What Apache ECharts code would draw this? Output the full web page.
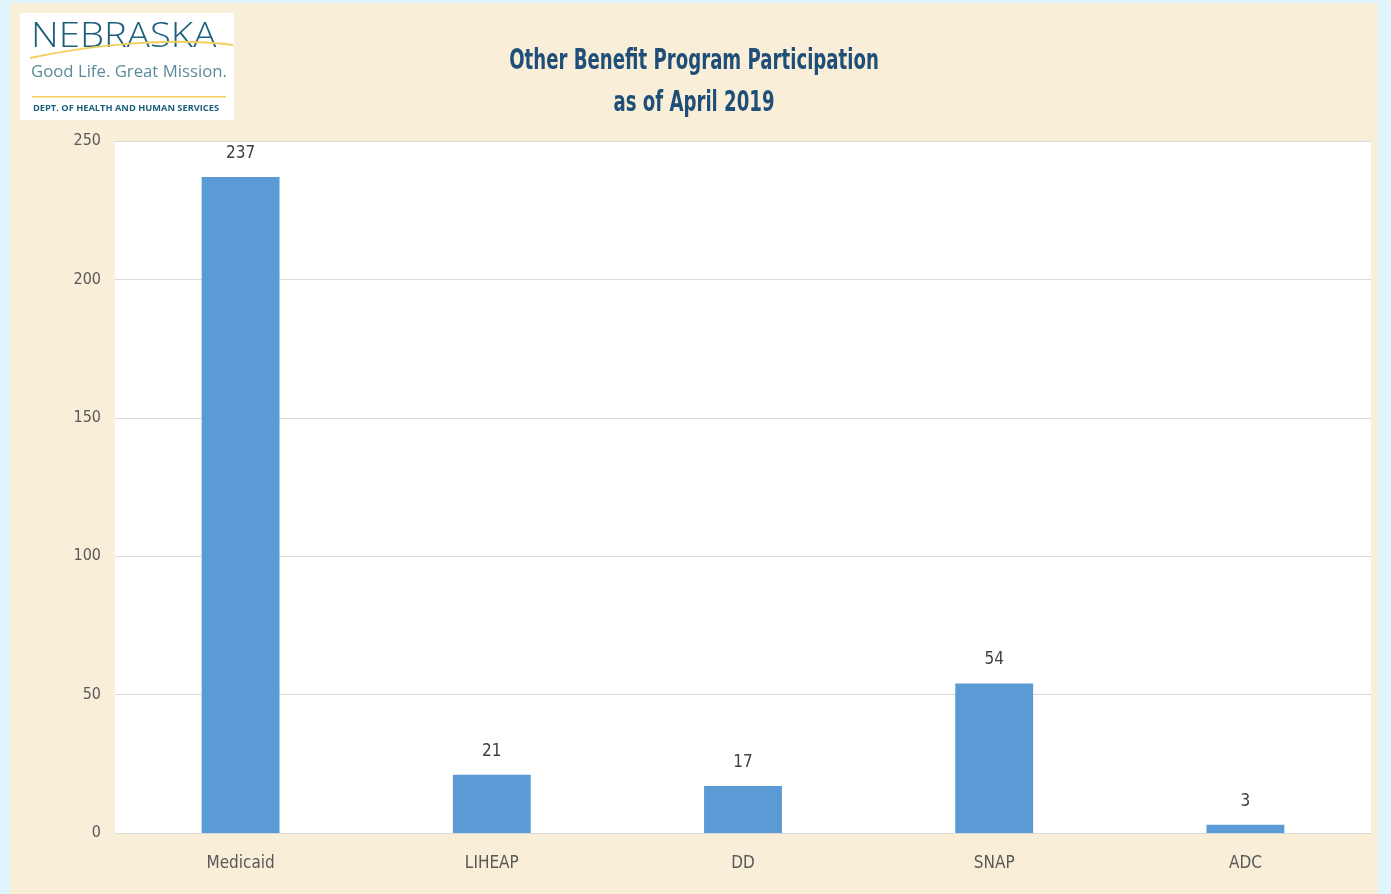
<!DOCTYPE html>
<html>
<head>
<meta charset="utf-8">
<script src="https://cdn.jsdelivr.net/npm/echarts@6/dist/echarts.min.js"></script>
<style>
html, body { margin: 0; padding: 0; background: #e0f4fb; }
#main { width: 1391px; height: 894px; }
</style>
</head>
<body>
<div id="main"></div>
<script>
var programs = ['Medicaid', 'LIHEAP', 'DD', 'SNAP', 'ADC'];
var participants = [237, 21, 17, 54, 3];
var titleLines = ['Other Benefit Program Participation', 'as of April 2019'];

var narrow = '"DejaVu Sans Condensed", sans-serif';
var chart = echarts.init(document.getElementById('main'));

var option = {
    backgroundColor: '#e0f4fb',
    graphic: [
        // parchment panel
        { type: 'rect', z: -10, shape: { x: 10, y: 3, width: 1368, height: 891 }, style: { fill: '#f9eed7' } },
        // logo
        { type: 'rect', shape: { x: 20, y: 13, width: 214, height: 107 }, style: { fill: '#ffffff' } },
        { type: 'text', x: 31, y: 20, scaleX: 1.13, style: { text: 'NEBRASKA', font: '300 34px "Open Sans", sans-serif', fill: '#1c5f7c' } },
        { type: 'bezierCurve', shape: { x1: 30, y1: 58, x2: 233, y2: 45, cpx1: 90, cpy1: 45, cpx2: 170, cpy2: 37 }, style: { stroke: '#f2cf5b', lineWidth: 2, fill: null } },
        { type: 'text', x: 31, y: 65, scaleX: 1.08, style: { text: 'Good Life. Great Mission.', font: '15.5px "Open Sans", sans-serif', fill: '#5b8b98' } },
        { type: 'rect', shape: { x: 32, y: 96, width: 194, height: 1.5 }, style: { fill: '#f2cf5b' } },
        { type: 'text', x: 33, y: 104, scaleX: 1.03, style: { text: 'DEPT. OF HEALTH AND HUMAN SERVICES', font: 'bold 9px "Open Sans", sans-serif', fill: '#1c5f7c' } },
        // title
        { type: 'text', x: 694, y: 62, scaleX: 0.72, style: { text: titleLines[0], align: 'center', verticalAlign: 'middle', font: 'bold 28px ' + narrow, fill: '#1f4e79' } },
        { type: 'text', x: 694, y: 104, scaleX: 0.72, style: { text: titleLines[1], align: 'center', verticalAlign: 'middle', font: 'bold 28px ' + narrow, fill: '#1f4e79' } }
    ],
    grid: {
        left: 115, right: 20, top: 141, bottom: 61,
        show: true, backgroundColor: '#ffffff', borderWidth: 0
    },
    xAxis: {
        type: 'category',
        data: programs,
        axisTick: { show: false },
        axisLine: { lineStyle: { color: '#d9d9d9' } },
        axisLabel: { color: '#595959', fontSize: 17, fontFamily: narrow, margin: 22 }
    },
    yAxis: {
        type: 'value',
        min: 0, max: 250, interval: 50,
        axisLine: { show: false },
        axisTick: { show: false },
        splitLine: { lineStyle: { color: '#d9d9d9' } },
        axisLabel: { color: '#595959', fontSize: 16, fontFamily: narrow, margin: 14 }
    },
    series: [{
        type: 'bar',
        data: participants,
        barWidth: '31%',
        itemStyle: { color: '#5b9bd5' },
        label: { show: true, position: 'top', distance: 15, color: '#404040', fontSize: 17, fontFamily: narrow }
    }]
};

chart.setOption(option);
</script>
</body>
</html>
